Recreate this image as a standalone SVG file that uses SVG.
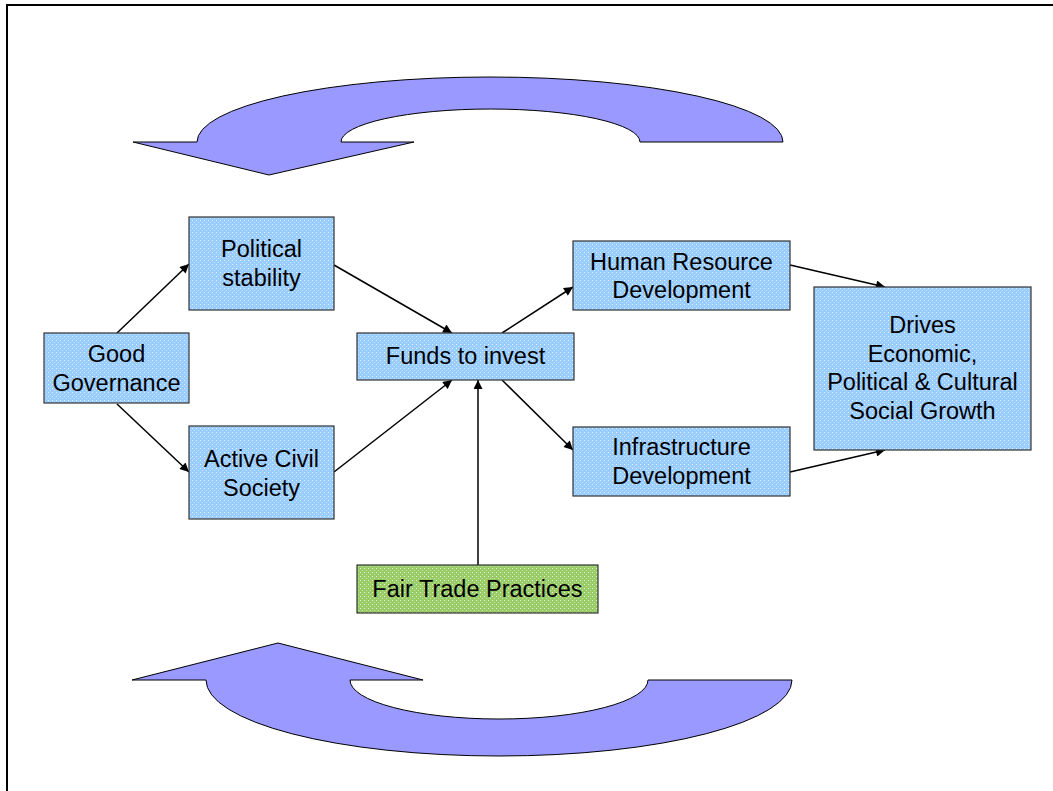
<svg xmlns="http://www.w3.org/2000/svg" width="1053" height="791" viewBox="0 0 1053 791">
  <defs>
    <!-- dotted texture for the node fills -->
    <pattern id="dotsBlue" width="4" height="4" patternUnits="userSpaceOnUse">
      <rect width="4" height="4" fill="#99CCFF"/>
      <rect x="0" y="0" width="1" height="1" fill="#ffffff" opacity="0.75"/>
      <rect x="2" y="2" width="1" height="1" fill="#ffffff" opacity="0.45"/>
    </pattern>
    <pattern id="dotsGreen" width="4" height="4" patternUnits="userSpaceOnUse">
      <rect width="4" height="4" fill="#99CC66"/>
      <rect x="0" y="0" width="1" height="1" fill="#ffffff" opacity="0.75"/>
      <rect x="2" y="2" width="1" height="1" fill="#ffffff" opacity="0.45"/>
    </pattern>
    <marker id="arrow" viewBox="0 0 10 10" refX="10" refY="5" markerWidth="11" markerHeight="9" markerUnits="userSpaceOnUse" orient="auto">
      <path d="M0,0 L10,5 L0,10 Z" fill="#000"/>
    </marker>
  </defs>
  <style>
    .box { fill: url(#dotsBlue); stroke: #333; stroke-width: 1.2; }
    .box.green { fill: url(#dotsGreen); }
    .label { font-family: "Liberation Sans", Arial, sans-serif; font-size: 23.5px; fill: #000; text-anchor: middle; }
    .conn { stroke: #000; stroke-width: 1.5; fill: none; marker-end: url(#arrow); }
    .loop { fill: #9999FF; stroke: #000; stroke-width: 1; }
    .frame { stroke: #000; stroke-width: 2; fill: none; }
  </style>

  <rect width="1053" height="791" fill="#fff"/>
  <!-- page frame: top and left edges -->
  <path class="frame" d="M7,791 L7,5 L1053,5"/>

  <!-- cycle arrows -->
  <g id="loop-top">
    <path class="loop" d="M133,142 L197,142 A293,65 0 0 1 783,142 L640,142 A149.5,33 0 0 0 341,142 L414,142 L269,175 Z"/>
  </g>
  <g id="loop-bottom">
    <path class="loop" d="M132,680 L278,643 L423,680 L350,680 A149,39 0 0 0 648,680 L792,680 A293,76 0 0 1 206,680 Z"/>
  </g>

  <g id="connectors">
    <line class="conn" x1="117" y1="333" x2="189" y2="264"/>
    <line class="conn" x1="117" y1="404" x2="189" y2="472"/>
    <line class="conn" x1="334" y1="265" x2="452" y2="333"/>
    <line class="conn" x1="334" y1="472" x2="452" y2="380"/>
    <line class="conn" x1="502" y1="333" x2="573" y2="287"/>
    <line class="conn" x1="502" y1="380" x2="573" y2="450"/>
    <line class="conn" x1="478" y1="565" x2="478" y2="380"/>
    <line class="conn" x1="790" y1="265" x2="885" y2="287"/>
    <line class="conn" x1="790" y1="472" x2="885" y2="450"/>
  </g>

  <g id="good-governance">
    <rect class="box" x="44" y="333" width="145" height="70"/>
    <text class="label" x="116.5" y="362">Good</text>
    <text class="label" x="116.5" y="391">Governance</text>
  </g>
  <g id="political-stability">
    <rect class="box" x="189" y="217" width="145" height="93"/>
    <text class="label" x="261.5" y="257">Political</text>
    <text class="label" x="261.5" y="286">stability</text>
  </g>
  <g id="active-civil-society">
    <rect class="box" x="189" y="426" width="145" height="93"/>
    <text class="label" x="261.5" y="467">Active Civil</text>
    <text class="label" x="261.5" y="496">Society</text>
  </g>
  <g id="funds-to-invest">
    <rect class="box" x="357" y="333" width="217" height="47"/>
    <text class="label" x="465.5" y="364">Funds to invest</text>
  </g>
  <g id="human-resource-development">
    <rect class="box" x="573" y="241" width="217" height="69"/>
    <text class="label" x="681.5" y="270">Human Resource</text>
    <text class="label" x="681.5" y="298">Development</text>
  </g>
  <g id="infrastructure-development">
    <rect class="box" x="573" y="427" width="217" height="69"/>
    <text class="label" x="681.5" y="455">Infrastructure</text>
    <text class="label" x="681.5" y="484">Development</text>
  </g>
  <g id="growth">
    <rect class="box" x="814" y="287" width="217" height="163"/>
    <text class="label" x="922.5" y="333">Drives</text>
    <text class="label" x="922.5" y="362">Economic,</text>
    <text class="label" x="922.5" y="390">Political &amp; Cultural</text>
    <text class="label" x="922.5" y="419">Social Growth</text>
  </g>
  <g id="fair-trade-practices">
    <rect class="box green" x="357" y="565" width="241" height="48"/>
    <text class="label" x="477.5" y="597">Fair Trade Practices</text>
  </g>
</svg>
